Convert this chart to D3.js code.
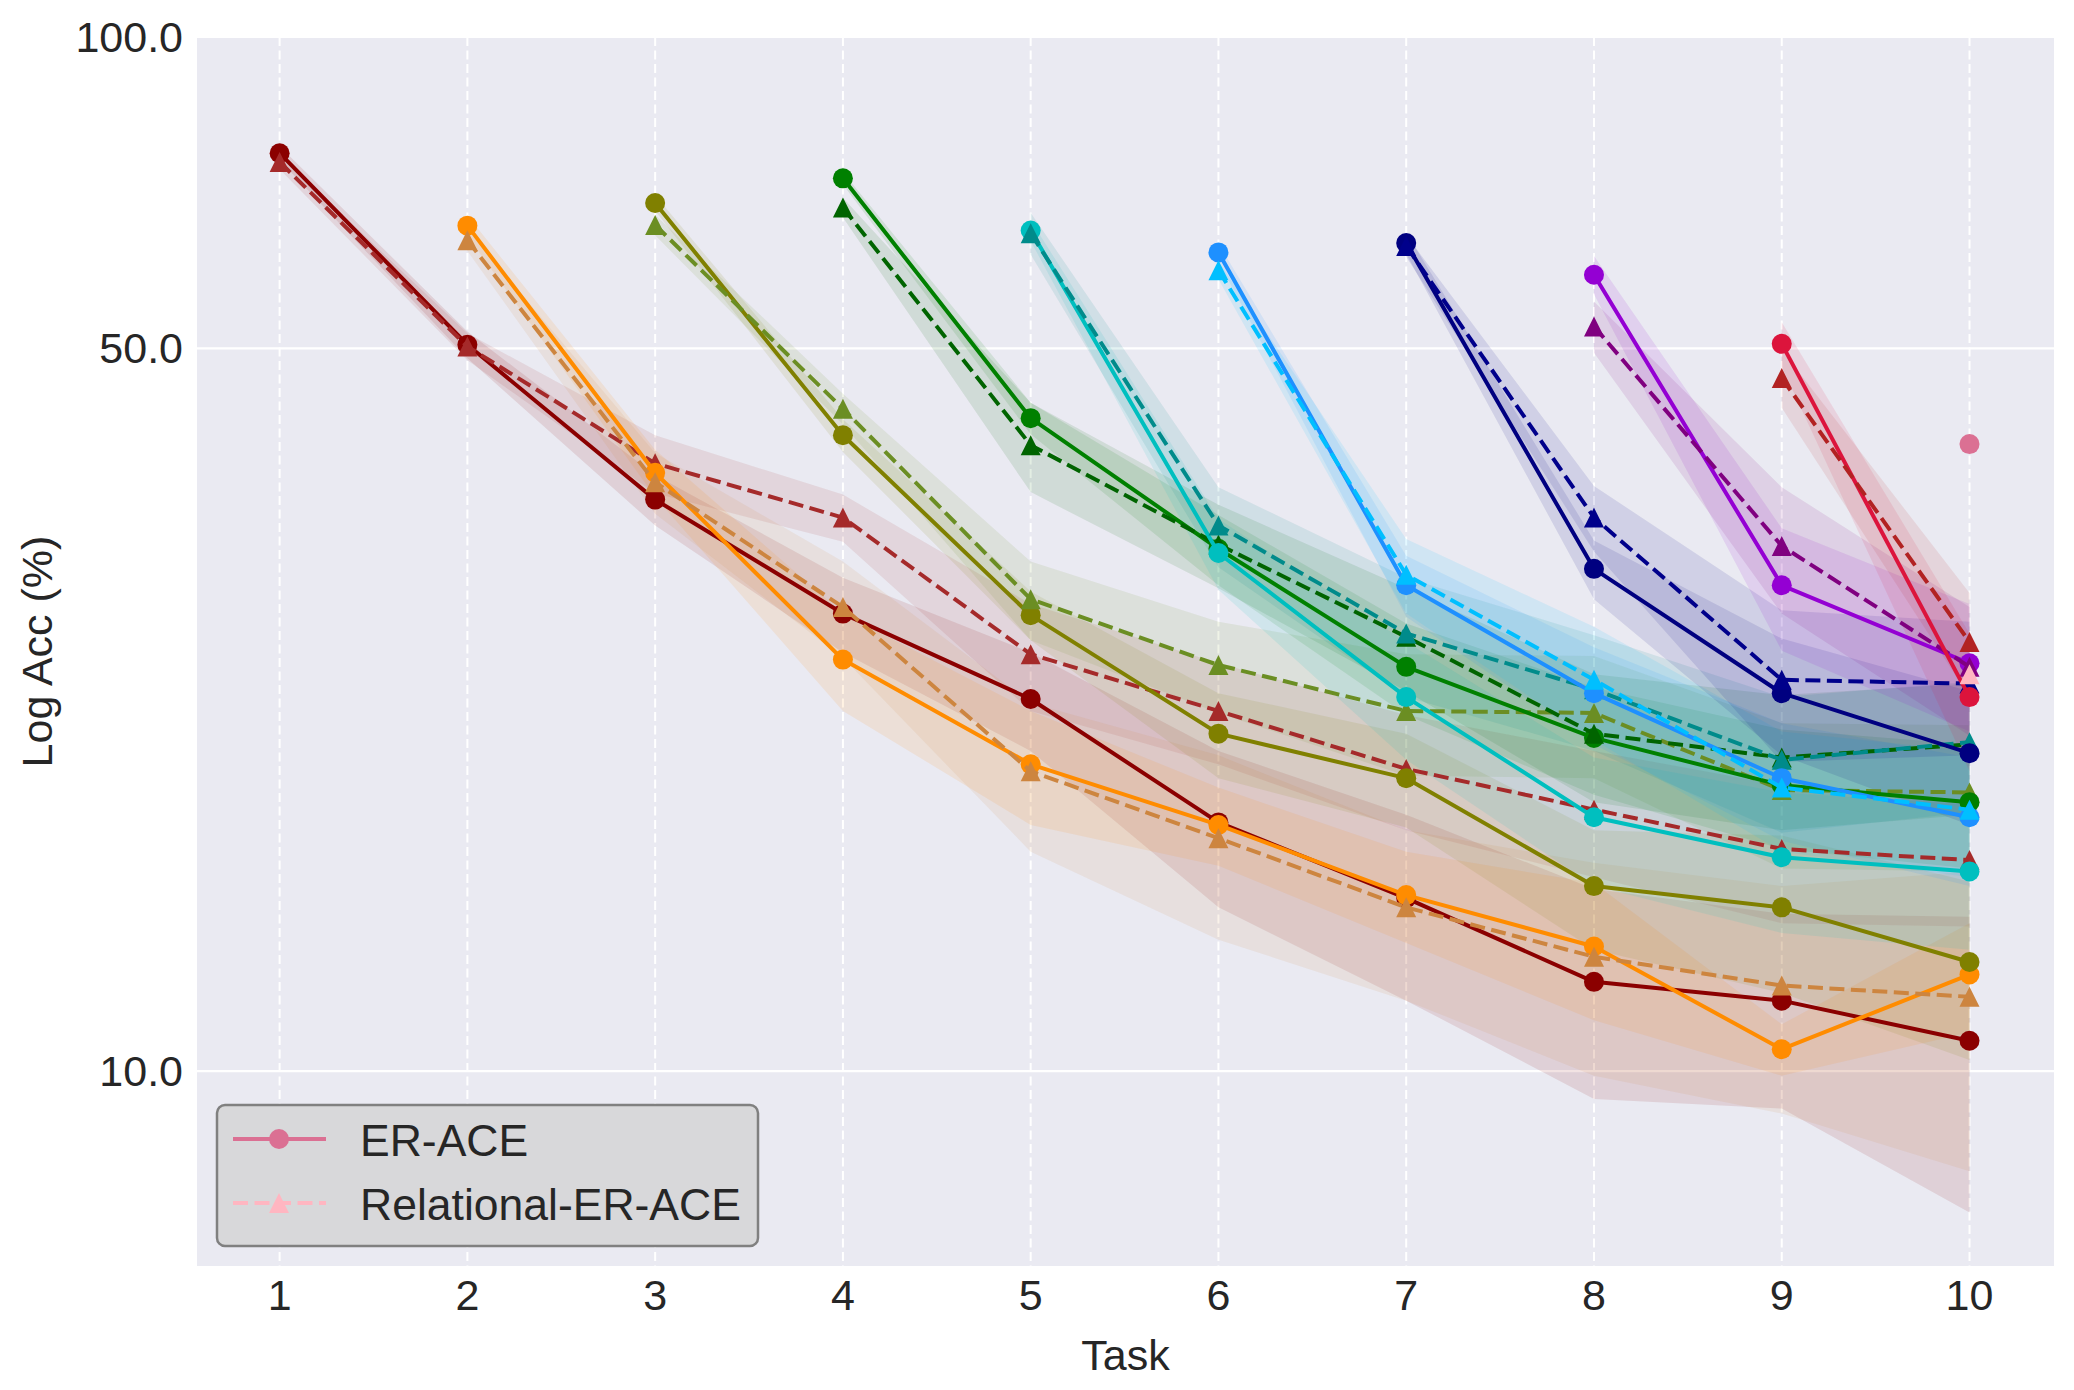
<!DOCTYPE html>
<html>
<head>
<meta charset="utf-8">
<script src="https://cdn.jsdelivr.net/npm/d3@7"></script>
<style>
  body { margin: 0; background: #fff; }
  svg { display: block; font-family: "Liberation Sans", Arial, sans-serif; }
</style>
</head>
<body>
<svg id="chart" width="2074" height="1390"></svg>
<script>
const tasks = [1, 2, 3, 4, 5, 6, 7, 8, 9, 10];
const yTicks = [10, 50, 100];

// accuracy on task k (row k) measured after training tasks k..10
const erMean = [
  [77.2, 50.4, 35.7, 27.7, 22.9, 17.4, 14.7, 12.2, 11.7, 10.7],
  [65.7, 37.9, 25.0, 19.8, 17.3, 14.8, 13.2, 10.5, 12.4],
  [69.1, 41.2, 27.6, 21.2, 19.2, 15.1, 14.4, 12.75],
  [73.0, 42.8, 32.0, 24.6, 21.0, 18.9, 18.2],
  [65.0, 31.7, 23.0, 17.6, 16.1, 15.6],
  [61.9, 29.5, 23.2, 19.2, 17.6],
  [63.2, 30.6, 23.2, 20.3],
  [58.9, 29.5, 24.8],
  [50.5, 23.0],
  [40.4]
];
const erStd = [
  [1.2, 1.5, 2.0, 2.3, 2.5, 3.0, 3.0, 2.8, 2.5, 3.4],
  [1.5, 2.0, 2.7, 2.5, 1.5, 1.5, 2.0, 0.6, 1.5],
  [1.2, 1.5, 1.5, 2.0, 2.0, 2.0, 2.5, 2.5],
  [1.0, 1.5, 2.5, 2.5, 2.5, 2.5, 2.5],
  [1.5, 2.5, 3.0, 2.5, 2.5, 2.5],
  [1.2, 2.0, 2.5, 2.5, 2.5],
  [1.5, 2.0, 3.0, 3.0],
  [2.5, 4.0, 3.5],
  [2.5, 3.5],
  [0]
];
const relMean = [
  [75.7, 50.2, 38.7, 34.3, 25.3, 22.3, 19.6, 17.9, 16.4, 16.0],
  [63.6, 37.1, 28.1, 19.5, 16.8, 14.4, 12.9, 12.1, 11.8],
  [65.8, 43.7, 28.6, 24.7, 22.3, 22.2, 18.7, 18.6],
  [68.4, 40.3, 32.3, 26.3, 21.2, 20.1, 20.7],
  [64.6, 33.7, 26.5, 23.4, 20.0, 20.8],
  [59.5, 30.2, 23.9, 18.8, 17.9],
  [62.8, 34.3, 23.9, 23.7],
  [52.5, 32.2, 24.6],
  [46.8, 26.0],
  [24.2]
];
const relStd = [
  [1.2, 1.5, 2.5, 1.8, 3.0, 2.5, 2.5, 2.5, 2.5, 2.2],
  [1.5, 2.5, 3.0, 3.2, 3.4, 2.7, 3.0, 3.0, 3.8],
  [1.5, 1.5, 2.5, 2.5, 3.0, 3.0, 3.0, 3.0],
  [1.5, 4.0, 3.0, 3.0, 3.0, 3.0, 3.0],
  [3.0, 3.0, 3.5, 3.0, 3.0, 3.0],
  [1.2, 2.5, 3.0, 2.5, 2.5],
  [1.5, 2.5, 4.0, 3.5],
  [3.0, 4.5, 3.5],
  [3.0, 3.0],
  [0]
];
const erColors = ['#8B0000', '#FF8C00', '#808000', '#008000', '#00BFBF',
                  '#1E90FF', '#000080', '#9400D3', '#DC143C', '#DB7093'];
const relColors = ['#A52A2A', '#CD853F', '#6B8E23', '#006400', '#008B8B',
                   '#00BFFF', '#00008B', '#800080', '#B22222', '#FFB6C1'];
const methods = ['ER-ACE', 'Relational-ER-ACE'];

const svg = d3.select('#chart');
const plotL = 197, plotR = 2054, plotT = 37, plotB = 1266;
const textColor = '#262626';

const x = d3.scaleLinear().domain([0.56, 10.45]).range([plotL, plotR]);
const y = d3.scaleLog().domain([6.48, 100]).range([plotB, plotT]);

// background + grid
svg.append('rect')
    .attr('x', plotL).attr('y', plotT)
    .attr('width', plotR - plotL).attr('height', plotB - plotT)
    .attr('fill', '#EAEAF2');

svg.append('g')
  .selectAll('line')
  .data(yTicks)
  .enter()
  .append('line')
    .attr('x1', plotL).attr('x2', plotR)
    .attr('y1', d => y(d)).attr('y2', d => y(d))
    .attr('stroke', '#fff')
    .attr('stroke-width', 2.2);

svg.append('g')
  .selectAll('line')
  .data(tasks)
  .enter()
  .append('line')
    .attr('x1', d => x(d)).attr('x2', d => x(d))
    .attr('y1', plotT).attr('y2', plotB)
    .attr('stroke', '#fff')
    .attr('stroke-width', 2)
    .attr('stroke-dasharray', '9,4.5');

// build series objects
const series = [];
erMean.forEach((row, k) => {
  const mk = (means, stds, color, dashed) => ({
    color, dashed,
    pts: means.map((m, i) => ({ t: tasks[k + i], m, s: stds[k][i] }))
  });
  series.push(mk(row, erStd, erColors[k], false));
  series.push(mk(relMean[k], relStd, relColors[k], true));
});

const plot = svg.append('g');

const area = d3.area()
    .x(d => x(d.t))
    .y0(d => y(d.m - d.s))
    .y1(d => y(d.m + d.s));

const line = d3.line()
    .x(d => x(d.t))
    .y(d => y(d.m));

// std bands under every line
plot.append('g')
  .selectAll('path')
  .data(series.filter(s => s.pts.length > 1))
  .enter()
  .append('path')
    .attr('d', s => area(s.pts))
    .attr('fill', s => s.color)
    .attr('fill-opacity', 0.11);

const triangle = 'M0,-10L10,10L-10,10Z';

series.forEach(s => {
  const g = plot.append('g');
  g.append('path')
      .attr('d', line(s.pts))
      .attr('fill', 'none')
      .attr('stroke', s.color)
      .attr('stroke-width', 4)
      .attr('stroke-linejoin', 'round')
      .attr('stroke-dasharray', s.dashed ? '15,6.5' : null);

  if (s.dashed) {
    g.selectAll('path.mark')
      .data(s.pts)
      .enter()
      .append('path')
        .attr('class', 'mark')
        .attr('d', triangle)
        .attr('transform', d => `translate(${x(d.t)},${y(d.m)})`)
        .attr('fill', s.color);
  } else {
    g.selectAll('circle')
      .data(s.pts)
      .enter()
      .append('circle')
        .attr('cx', d => x(d.t))
        .attr('cy', d => y(d.m))
        .attr('r', 10)
        .attr('fill', s.color);
  }
});

// axes text
svg.append('g')
  .selectAll('text')
  .data(yTicks)
  .enter()
  .append('text')
    .attr('x', plotL - 14)
    .attr('y', d => y(d) + 15)
    .attr('text-anchor', 'end')
    .style('font-size', '43px')
    .attr('fill', textColor)
    .text(d => d.toFixed(1));

svg.append('g')
  .selectAll('text')
  .data(tasks)
  .enter()
  .append('text')
    .attr('x', d => x(d))
    .attr('y', 1310)
    .attr('text-anchor', 'middle')
    .style('font-size', '43px')
    .attr('fill', textColor)
    .text(d => d);

svg.append('text')
    .attr('x', (plotL + plotR) / 2)
    .attr('y', 1370)
    .attr('text-anchor', 'middle')
    .style('font-size', '43px')
    .attr('fill', textColor)
    .text('Task');

svg.append('text')
    .attr('transform', `translate(52,${(plotT + plotB) / 2}) rotate(-90)`)
    .attr('text-anchor', 'middle')
    .style('font-size', '43px')
    .attr('fill', textColor)
    .text('Log Acc (%)');

// legend
const legend = svg.append('g').attr('transform', 'translate(217,1105)');
legend.append('rect')
    .attr('width', 541).attr('height', 141)
    .attr('rx', 8).attr('ry', 8)
    .attr('fill', '#D8D8DA')
    .attr('stroke', '#808080')
    .attr('stroke-width', 2.5);

methods.forEach((name, i) => {
  const ly = 34 + i * 64;
  const color = i === 0 ? erColors[9] : relColors[9];
  legend.append('line')
      .attr('x1', 16).attr('x2', 109)
      .attr('y1', ly).attr('y2', ly)
      .attr('stroke', color)
      .attr('stroke-width', 4)
      .attr('stroke-dasharray', i === 0 ? null : '15,6.5');
  if (i === 0) {
    legend.append('circle')
        .attr('cx', 62).attr('cy', ly).attr('r', 10)
        .attr('fill', color);
  } else {
    legend.append('path')
        .attr('d', triangle)
        .attr('transform', `translate(62,${ly})`)
        .attr('fill', color);
  }
  legend.append('text')
      .attr('x', 143)
      .attr('y', ly + 17)
      .style('font-size', '44.5px')
      .attr('fill', textColor)
      .text(name);
});
</script>
</body>
</html>
